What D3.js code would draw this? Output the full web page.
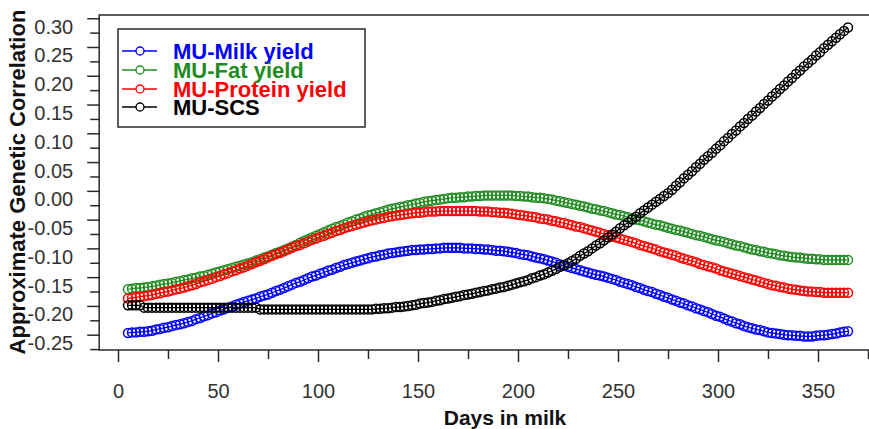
<!DOCTYPE html>
<html><head><meta charset="utf-8">
<script src="https://cdn.jsdelivr.net/npm/d3@7"></script>
<style>
html,body{margin:0;padding:0;background:#fff;}
svg{display:block;font-family:"Liberation Sans",Arial,sans-serif;}
</style></head>
<body>
<svg id="chart" width="869" height="429"></svg>
<script>
// Days in milk (every 2nd day from 5 to 365)
const days = d3.range(5, 366, 2);

const milk = [
-0.247,-0.246,-0.246,-0.245,-0.245, -0.244,-0.243,-0.241,-0.240,-0.238,
-0.237,-0.235,-0.233,-0.232,-0.230, -0.228,-0.226,-0.223,-0.221,-0.218,
-0.216,-0.213,-0.211,-0.208,-0.206, -0.203,-0.201,-0.198,-0.196,-0.193,
-0.191,-0.189,-0.187,-0.184,-0.182, -0.180,-0.177,-0.174,-0.172,-0.169,
-0.166,-0.163,-0.160,-0.158,-0.155, -0.152,-0.149,-0.147,-0.144,-0.142,
-0.139,-0.137,-0.134,-0.132,-0.129, -0.127,-0.125,-0.123,-0.121,-0.119,
-0.117,-0.115,-0.114,-0.112,-0.111, -0.109,-0.108,-0.107,-0.106,-0.105,
-0.104,-0.103,-0.103,-0.102,-0.102, -0.101,-0.101,-0.100,-0.100,-0.099,
-0.099,-0.099,-0.099,-0.099,-0.100, -0.100,-0.100,-0.101,-0.101,-0.102,
-0.102,-0.103,-0.104,-0.104,-0.105, -0.106,-0.107,-0.108,-0.110,-0.111,
-0.112,-0.114,-0.116,-0.117,-0.119, -0.121,-0.123,-0.125,-0.128,-0.130,
-0.132,-0.134,-0.136,-0.138,-0.140, -0.142,-0.144,-0.146,-0.147,-0.149,
-0.151,-0.153,-0.155,-0.158,-0.160, -0.162,-0.164,-0.167,-0.169,-0.172,
-0.174,-0.176,-0.179,-0.181,-0.184, -0.186,-0.189,-0.191,-0.194,-0.196,
-0.199,-0.201,-0.204,-0.206,-0.209, -0.211,-0.214,-0.217,-0.219,-0.222,
-0.225,-0.227,-0.230,-0.232,-0.235, -0.237,-0.239,-0.241,-0.242,-0.244,
-0.246,-0.247,-0.248,-0.249,-0.250, -0.251,-0.251,-0.252,-0.252,-0.253,
-0.253,-0.253,-0.252,-0.251,-0.251, -0.250,-0.249,-0.248,-0.246,-0.245,
-0.244];

const fat = [
-0.171,-0.170,-0.169,-0.169,-0.168, -0.167,-0.166,-0.165,-0.163,-0.162,
-0.161,-0.160,-0.158,-0.157,-0.155, -0.154,-0.152,-0.151,-0.149,-0.148,
-0.146,-0.144,-0.142,-0.140,-0.138, -0.136,-0.134,-0.132,-0.130,-0.128,
-0.126,-0.124,-0.121,-0.119,-0.116, -0.114,-0.111,-0.108,-0.106,-0.103,
-0.100,-0.097,-0.094,-0.090,-0.087, -0.084,-0.081,-0.078,-0.075,-0.072,
-0.069,-0.066,-0.063,-0.061,-0.058, -0.055,-0.053,-0.050,-0.048,-0.045,
-0.043,-0.041,-0.039,-0.037,-0.035, -0.033,-0.031,-0.030,-0.028,-0.027,
-0.025,-0.024,-0.022,-0.021,-0.019, -0.018,-0.017,-0.016,-0.015,-0.014,
-0.013,-0.012,-0.012,-0.011,-0.011, -0.010,-0.010,-0.009,-0.009,-0.008,
-0.008,-0.008,-0.008,-0.008,-0.008, -0.008,-0.008,-0.009,-0.009,-0.010,
-0.010,-0.011,-0.012,-0.012,-0.013, -0.014,-0.015,-0.017,-0.018,-0.020,
-0.021,-0.023,-0.024,-0.026,-0.027, -0.029,-0.031,-0.032,-0.034,-0.035,
-0.037,-0.039,-0.041,-0.042,-0.044, -0.046,-0.048,-0.050,-0.051,-0.053,
-0.055,-0.057,-0.059,-0.060,-0.062, -0.064,-0.066,-0.068,-0.069,-0.071,
-0.073,-0.075,-0.077,-0.078,-0.080, -0.082,-0.084,-0.086,-0.087,-0.089,
-0.091,-0.093,-0.095,-0.096,-0.098, -0.100,-0.102,-0.103,-0.105,-0.106,
-0.108,-0.109,-0.110,-0.112,-0.113, -0.114,-0.115,-0.116,-0.116,-0.117,
-0.118,-0.118,-0.119,-0.119,-0.120, -0.120,-0.120,-0.120,-0.120,-0.120,
-0.120];

const protein = [
-0.187,-0.186,-0.185,-0.184,-0.183, -0.182,-0.181,-0.179,-0.178,-0.176,
-0.175,-0.173,-0.171,-0.170,-0.168, -0.166,-0.164,-0.162,-0.159,-0.157,
-0.155,-0.153,-0.150,-0.148,-0.145, -0.143,-0.140,-0.138,-0.135,-0.133,
-0.130,-0.127,-0.124,-0.122,-0.119, -0.116,-0.113,-0.110,-0.108,-0.105,
-0.102,-0.099,-0.096,-0.094,-0.091, -0.088,-0.085,-0.083,-0.080,-0.078,
-0.075,-0.073,-0.070,-0.068,-0.065, -0.063,-0.061,-0.059,-0.057,-0.055,
-0.053,-0.051,-0.050,-0.048,-0.047, -0.045,-0.044,-0.043,-0.042,-0.041,
-0.040,-0.039,-0.038,-0.038,-0.037, -0.036,-0.036,-0.036,-0.035,-0.035,
-0.035,-0.035,-0.035,-0.035,-0.035, -0.035,-0.035,-0.035,-0.036,-0.036,
-0.036,-0.037,-0.037,-0.038,-0.038, -0.039,-0.040,-0.041,-0.042,-0.043,
-0.044,-0.045,-0.046,-0.048,-0.049, -0.050,-0.052,-0.053,-0.055,-0.056,
-0.058,-0.060,-0.062,-0.063,-0.065, -0.067,-0.069,-0.071,-0.073,-0.075,
-0.077,-0.079,-0.081,-0.083,-0.085, -0.087,-0.089,-0.091,-0.094,-0.096,
-0.098,-0.100,-0.102,-0.105,-0.107, -0.109,-0.111,-0.113,-0.116,-0.118,
-0.120,-0.122,-0.124,-0.127,-0.129, -0.131,-0.133,-0.135,-0.138,-0.140,
-0.142,-0.144,-0.146,-0.148,-0.150, -0.152,-0.154,-0.156,-0.158,-0.160,
-0.162,-0.164,-0.165,-0.167,-0.168, -0.170,-0.171,-0.172,-0.173,-0.174,
-0.175,-0.175,-0.176,-0.176,-0.177, -0.177,-0.177,-0.177,-0.177,-0.177,
-0.177];

const scs = [
-0.199,-0.199,-0.199,-0.199,-0.203, -0.203,-0.203,-0.203,-0.203,-0.203,
-0.203,-0.203,-0.203,-0.203,-0.203, -0.203,-0.203,-0.203,-0.203,-0.203,
-0.203,-0.203,-0.203,-0.203,-0.203, -0.203,-0.203,-0.203,-0.203,-0.203,
-0.203,-0.203,-0.203,-0.206,-0.206, -0.206,-0.206,-0.206,-0.206,-0.206,
-0.206,-0.206,-0.206,-0.206,-0.206, -0.206,-0.206,-0.206,-0.206,-0.206,
-0.206,-0.206,-0.206,-0.206,-0.206, -0.206,-0.206,-0.206,-0.206,-0.206,
-0.206,-0.206,-0.205,-0.205,-0.204, -0.204,-0.203,-0.202,-0.202,-0.201,
-0.200,-0.199,-0.198,-0.196,-0.195, -0.194,-0.193,-0.191,-0.190,-0.188,
-0.187,-0.186,-0.184,-0.183,-0.181, -0.180,-0.179,-0.177,-0.176,-0.174,
-0.173,-0.171,-0.170,-0.168,-0.167, -0.165,-0.163,-0.161,-0.159,-0.157,
-0.155,-0.152,-0.150,-0.147,-0.145, -0.142,-0.139,-0.136,-0.132,-0.129,
-0.126,-0.122,-0.118,-0.113,-0.109, -0.105,-0.100,-0.095,-0.091,-0.086,
-0.081,-0.076,-0.071,-0.065,-0.060, -0.055,-0.050,-0.045,-0.039,-0.034,
-0.029,-0.024,-0.019,-0.014,-0.009, -0.004,0.002,0.009,0.015,0.022,
0.028,0.034,0.041,0.047,0.054, 0.060,0.066,0.073,0.079,0.086,
0.092,0.099,0.105,0.112,0.118, 0.125,0.131,0.138,0.144,0.151,
0.157,0.164,0.170,0.177,0.183, 0.190,0.196,0.203,0.209,0.216,
0.222,0.228,0.235,0.241,0.248, 0.254,0.260,0.266,0.272,0.278,
0.284];

const seriesNames = ["MU-Milk yield", "MU-Fat yield", "MU-Protein yield", "MU-SCS"];
const seriesColors = ["#0000ff", "#228b22", "#ff0000", "#000000"];
const seriesValues = [milk, fat, protein, scs];

const xMajorTicks = [0, 50, 100, 150, 200, 250, 300, 350];
const xMinorTicks = [25, 75, 125, 175, 225, 275, 325, 375];
const yMajorTicks = [-0.25, -0.20, -0.15, -0.10, -0.05, 0.00, 0.05, 0.10, 0.15, 0.20, 0.25, 0.30];
const yMinorTicks = [-0.275, -0.225, -0.175, -0.125, -0.075, -0.025, 0.025, 0.075, 0.125, 0.175, 0.225, 0.275];

const xTitle = "Days in milk";
const yTitle = "Approximate Genetic Correlation";

const svg = d3.select("#chart");
const x = d3.scaleLinear().domain([-9.4, 379.4]).range([99.2, 876.8]);
const y = d3.scaleLinear().domain([-0.2766, 0.3056]).range([350, 15]);

const axisColor = "#2a2a2a";
const labelColor = "#333";

// series (draw order: milk, fat, protein, scs)
const line = d3.line().x((d, i) => x(days[i])).y(d => y(d));
seriesValues.forEach((vals, k) => {
  const g = svg.append("g");
  g.append("path").attr("d", line(vals)).attr("fill", "none")
    .attr("stroke", seriesColors[k]).attr("stroke-width", 1.2);
  g.selectAll("circle").data(vals).join("circle")
    .attr("cx", (d, i) => x(days[i])).attr("cy", d => y(d)).attr("r", 4.5)
    .attr("fill", "none").attr("stroke", seriesColors[k]).attr("stroke-width", 1.5);
});

// plot box
svg.append("rect").attr("x", x.range()[0]).attr("y", y.range()[1])
  .attr("width", x.range()[1] - x.range()[0]).attr("height", y.range()[0] - y.range()[1])
  .attr("fill", "none").attr("stroke", axisColor).attr("stroke-width", 1.5);

// x axis
const xAxisMajor = d3.axisBottom(x).tickValues(xMajorTicks).tickSize(12).tickPadding(22).tickFormat(d3.format("d"));
const gx = svg.append("g").attr("transform", `translate(0,${y.range()[0]})`).call(xAxisMajor);
gx.select(".domain").remove();
gx.selectAll("line").attr("stroke", axisColor).attr("stroke-width", 1.5);
gx.selectAll("text").attr("fill", labelColor).attr("font-size", 20).attr("font-family", "Liberation Sans, Arial, sans-serif");
const xAxisMinor = d3.axisBottom(x).tickValues(xMinorTicks).tickSize(9).tickFormat("");
const gx2 = svg.append("g").attr("transform", `translate(0,${y.range()[0]})`).call(xAxisMinor);
gx2.select(".domain").remove();
gx2.selectAll("line").attr("stroke", axisColor).attr("stroke-width", 1.5);

// y axis
const yAxisMajor = d3.axisLeft(y).tickValues(yMajorTicks).tickSize(12).tickPadding(14).tickFormat(d3.format(".2f"));
const gy = svg.append("g").attr("transform", `translate(${x.range()[0]},0)`).call(yAxisMajor);
gy.select(".domain").remove();
gy.selectAll("line").attr("stroke", axisColor).attr("stroke-width", 1.5);
gy.selectAll("text").attr("fill", labelColor).attr("font-size", 20).attr("dy", "0.95em")
  .attr("y", -4).attr("font-family", "Liberation Sans, Arial, sans-serif")
  .text(d => d3.format(".2f")(d).replace("−", "-"));
const yAxisMinor = d3.axisLeft(y).tickValues(yMinorTicks).tickSize(9).tickFormat("");
const gy2 = svg.append("g").attr("transform", `translate(${x.range()[0]},0)`).call(yAxisMinor);
gy2.select(".domain").remove();
gy2.selectAll("line").attr("stroke", axisColor).attr("stroke-width", 1.5);

// axis titles
svg.append("text").attr("x", 505).attr("y", 425).attr("text-anchor", "middle")
  .attr("font-size", 21).attr("font-weight", "bold").attr("fill", "#111").text(xTitle);
svg.append("text").attr("transform", "translate(25,182) rotate(-90)").attr("text-anchor", "middle")
  .attr("font-size", 22).attr("font-weight", "bold").attr("fill", "#111").text(yTitle);

// legend
const lg = svg.append("g");
lg.append("rect").attr("x", 118).attr("y", 29).attr("width", 247).attr("height", 98)
  .attr("fill", "#fff").attr("stroke", axisColor).attr("stroke-width", 1.5);
const rowY = [51, 70, 89, 107];
seriesNames.forEach((name, k) => {
  lg.append("line").attr("x1", 122).attr("x2", 157).attr("y1", rowY[k]).attr("y2", rowY[k])
    .attr("stroke", seriesColors[k]).attr("stroke-width", 1.3);
  lg.append("circle").attr("cx", 140).attr("cy", rowY[k]).attr("r", 4)
    .attr("fill", "#fff").attr("stroke", seriesColors[k]).attr("stroke-width", 1.3);
  lg.append("text").attr("x", 173).attr("y", rowY[k] + 7.5)
    .attr("font-size", 22).attr("font-weight", "bold").attr("fill", seriesColors[k]).text(name);
});
</script>
</body></html>
